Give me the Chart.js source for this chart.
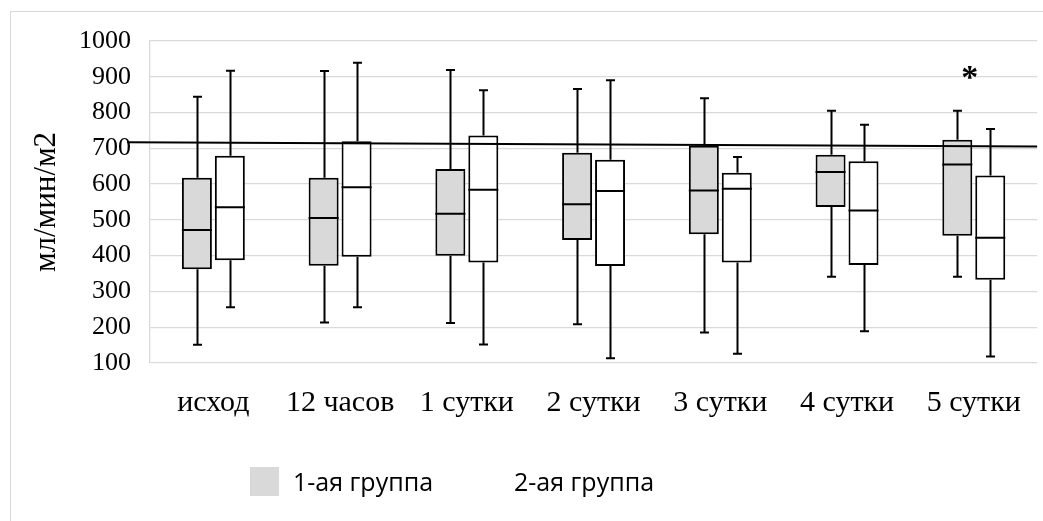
<!DOCTYPE html>
<html lang="ru">
<head>
  <meta charset="UTF-8">
  <title>Сердечный индекс по группам</title>
  <style>
    body {
      margin: 0;
      padding: 0;
      background: #ffffff;
    }

    #wrap {
      position: relative;
      width: 1043px;
      height: 521px;
    }

    .legend-box {
      position: absolute;
      left: 250px;
      top: 467px;
      width: 29px;
      height: 29px;
      background: #d9d9d9;
    }

    .legend-text {
      position: absolute;
      top: 467px;
      line-height: 29px;
      font-family: 'Open Sans', sans-serif;
      font-size: 25px;
      color: #000000;
      white-space: nowrap;
    }
  </style>
</head>
<body>
  <div id="wrap">
    <canvas id="boxChart"></canvas>
    <div class="legend-box"></div>
    <span class="legend-text" style="left: 293px;">1-ая группа</span>
    <span class="legend-text" style="left: 514px;">2-ая группа</span>
  </div>

  <script src="https://cdn.jsdelivr.net/npm/chart.js"></script>

  <script>
    const categories = ['исход', '12 часов', '1 сутки', '2 сутки', '3 сутки', '4 сутки', '5 сутки'];

    // 1-ая группа
    const g1Min    = [151, 213, 212, 208, 185, 341, 341];
    const g1Q1     = [362, 372, 400, 444, 460, 536, 456];
    const g1Median = [472, 505, 517, 544, 582, 634, 655];
    const g1Q3     = [618, 618, 642, 688, 707, 682, 724];
    const g1Max    = [844, 916, 919, 866, 840, 805, 805];

    // 2-ая группа
    const g2Min    = [256, 256, 152, 113, 126, 189, 118];
    const g2Q1     = [387, 397, 381, 371, 381, 374, 333];
    const g2Median = [535, 591, 584, 581, 587, 526, 450];
    const g2Q3     = [679, 720, 736, 668, 632, 664, 624];
    const g2Max    = [917, 939, 862, 890, 676, 766, 754];

    // horizontal reference line (value at left end, value at right end)
    const refLine = [717, 705];

    // significance mark
    const starCategory = '5 сутки';
    const starValue = 913;

    const yMin = 100, yMax = 1000, yStep = 100;

    const stats = [
      { min: g1Min, med: g1Median, max: g1Max },
      { min: g2Min, med: g2Median, max: g2Max }
    ];

    const serif = "'Liberation Serif', 'Times New Roman', serif";

    // whiskers, medians, reference line, asterisk and outer frame
    const boxExtras = {
      id: 'boxExtras',
      beforeDraw(chart) {
        const c = chart.ctx;
        c.save();
        c.strokeStyle = '#d9d9d9';
        c.lineWidth = 1;
        c.strokeRect(10.5, 11.5, 1200, 700);
        c.restore();
      },
      afterDatasetsDraw(chart) {
        const c = chart.ctx;
        const y = chart.scales.y;
        const x = chart.scales.x;
        const area = chart.chartArea;
        c.save();
        c.strokeStyle = '#000000';
        c.lineWidth = 2;
        c.lineCap = 'butt';

        stats.forEach((s, d) => {
          const meta = chart.getDatasetMeta(d);
          meta.data.forEach((bar, i) => {
            const cx = Math.round(bar.x) + 0.5;
            const half = bar.width / 2;
            const top = chart.data.datasets[d].data[i][1];
            const bottom = chart.data.datasets[d].data[i][0];

            c.beginPath();
            // upper whisker
            c.moveTo(cx, y.getPixelForValue(top));
            c.lineTo(cx, y.getPixelForValue(s.max[i]));
            c.moveTo(cx - 4.5, y.getPixelForValue(s.max[i]));
            c.lineTo(cx + 4.5, y.getPixelForValue(s.max[i]));
            // lower whisker
            c.moveTo(cx, y.getPixelForValue(bottom));
            c.lineTo(cx, y.getPixelForValue(s.min[i]));
            c.moveTo(cx - 4.5, y.getPixelForValue(s.min[i]));
            c.lineTo(cx + 4.5, y.getPixelForValue(s.min[i]));
            // median
            c.moveTo(bar.x - half, y.getPixelForValue(s.med[i]));
            c.lineTo(bar.x + half, y.getPixelForValue(s.med[i]));
            c.stroke();
          });
        });

        // reference line
        c.beginPath();
        c.moveTo(area.left - 23, y.getPixelForValue(refLine[0]));
        c.lineTo(area.right, y.getPixelForValue(refLine[1]));
        c.stroke();

        // asterisk
        c.fillStyle = '#000000';
        c.font = 'bold 34px ' + serif;
        c.textAlign = 'center';
        c.textBaseline = 'alphabetic';
        const m = c.measureText('*');
        const sx = x.getPixelForValue(categories.indexOf(starCategory)) - 4;
        const sy = y.getPixelForValue(starValue) + (m.actualBoundingBoxAscent - m.actualBoundingBoxDescent) / 2;
        c.fillText('*', sx, sy);
        c.restore();
      }
    };

    Chart.defaults.font.family = serif;
    Chart.defaults.color = '#000000';

    new Chart(document.getElementById('boxChart'), {
      type: 'bar',
      data: {
        labels: categories,
        datasets: [
          {
            label: '1-ая группа',
            data: categories.map((c, i) => [g1Q1[i], g1Q3[i]]),
            backgroundColor: '#d9d9d9',
            borderColor: '#000000',
            borderWidth: 2,
            borderSkipped: false
          },
          {
            label: '2-ая группа',
            data: categories.map((c, i) => [g2Q1[i], g2Q3[i]]),
            backgroundColor: '#ffffff',
            borderColor: '#000000',
            borderWidth: 2,
            borderSkipped: false
          }
        ]
      },
      options: {
        responsive: true,
        maintainAspectRatio: false,
        animation: false,
        categoryPercentage: 0.52,
        barPercentage: 0.91,
        layout: {
          padding: { left: 28, right: 2, top: 41, bottom: 0 }
        },
        plugins: {
          legend: { display: false },
          tooltip: { enabled: false }
        },
        scales: {
          x: {
            grid: { display: false, drawTicks: false },
            border: { display: false },
            ticks: {
              font: { size: 30 },
              padding: 22,
              maxRotation: 0,
              autoSkip: false
            },
            afterFit(scale) { scale.height = 158; }
          },
          y: {
            min: yMin,
            max: yMax,
            grid: { color: '#d9d9d9', lineWidth: 1.3, drawTicks: false },
            border: { display: true, color: '#d9d9d9', width: 1.3 },
            ticks: {
              stepSize: yStep,
              font: { size: 26 },
              padding: 19,
              callback: (v) => String(v)
            },
            title: {
              display: true,
              text: 'мл/мин/м2',
              font: { size: 31 },
              padding: 0
            },
            afterFit(scale) { scale.width = 122; }
          }
        }
      },
      plugins: [boxExtras]
    });
  </script>
</body>
</html>
